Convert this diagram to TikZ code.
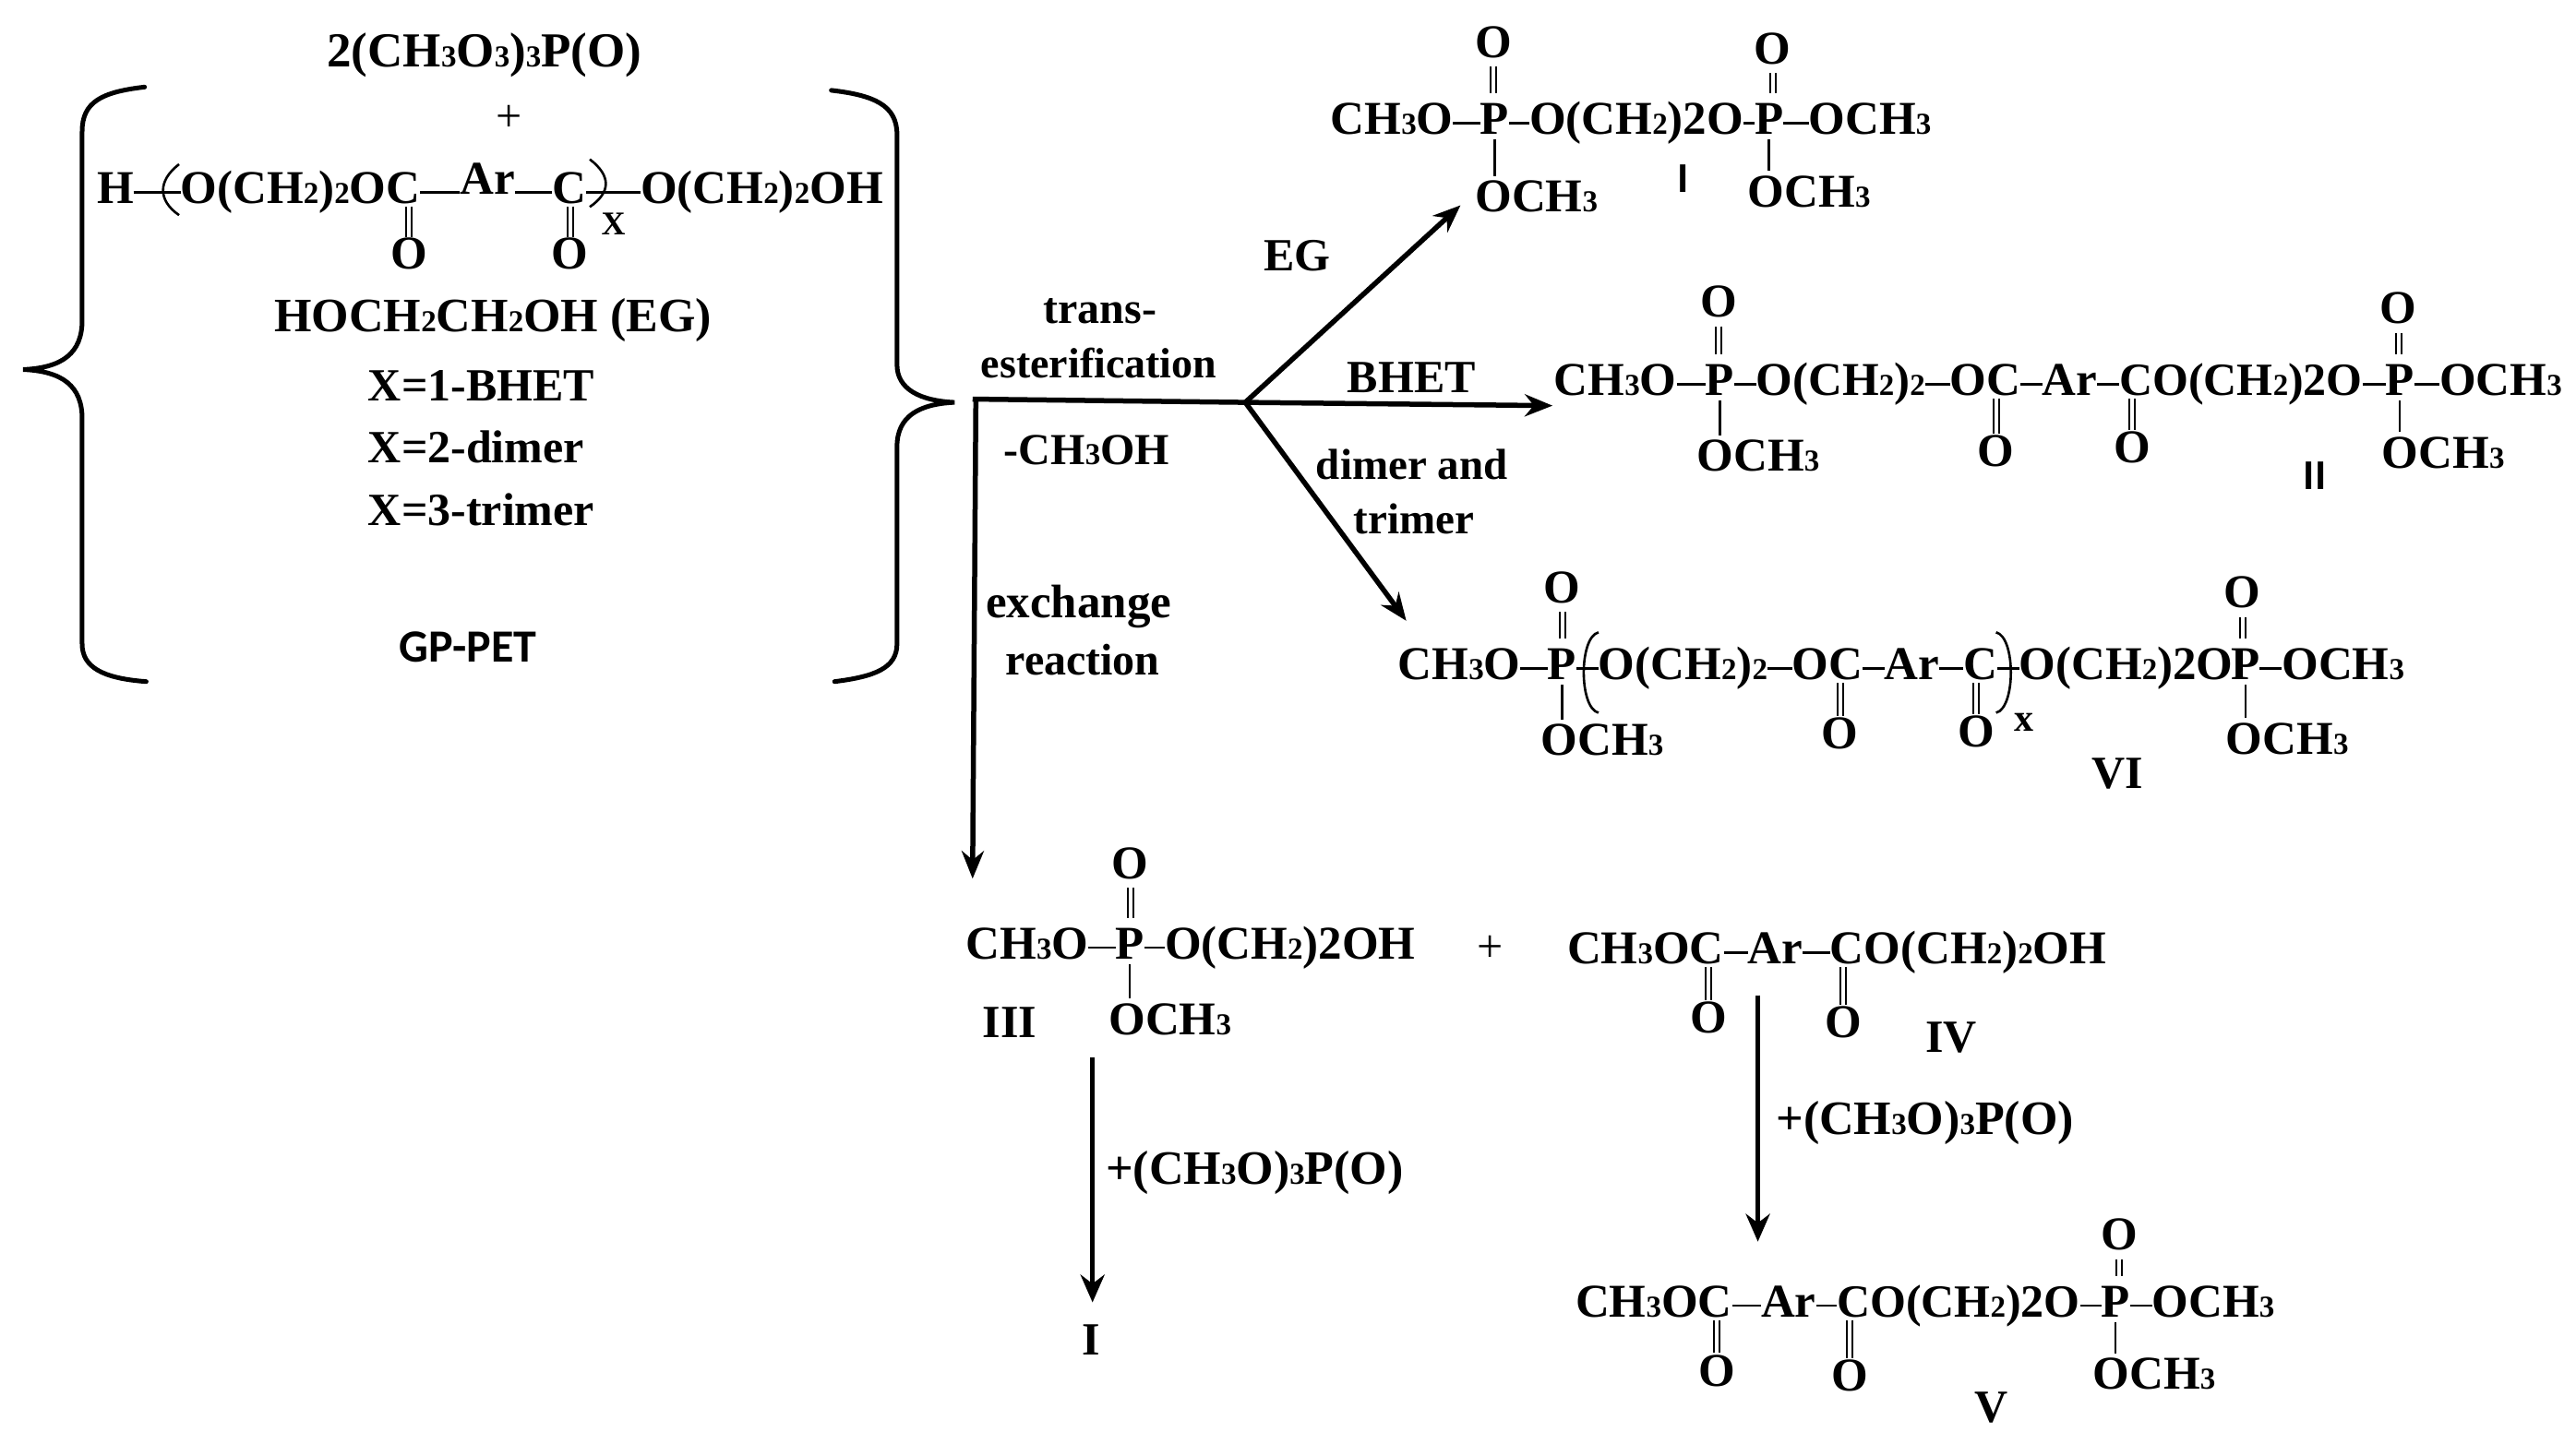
\documentclass[tikz,border=0pt]{standalone}
\usepackage{fontspec}
\setmainfont{Liberation Serif}
\newfontfamily\sansb{Carlito}
\usetikzlibrary{arrows.meta}
\newcommand\sm[1]{{\fontsize{33}{33}\selectfont #1}}
\newcommand\fs[1]{\fontsize{#1}{#1}\selectfont\bfseries}
\tikzset{
 chem/.style={inner sep=0pt,outer sep=0pt,anchor=base west,text height=25pt,text depth=0pt,font=\fs{51}},
 ox/.style={chem,anchor=base},
 lab/.style={inner sep=0pt,anchor=base west,font=\fs{50}},
 sanslab/.style={inner sep=0pt,anchor=base west,font=\fs{50}\sansb},
 romsans/.style={inner sep=0pt,anchor=base west,font=\fs{46}\sansb},
 bond/.style={line width=2.6pt,black},
 dbl/.style={line width=8pt,black,postaction={draw=white,line width=4pt}},
 brace/.style={line width=5pt,black,line cap=round},
 react/.style={line width=5.5pt,black,-{Stealth[length=30pt,width=24pt]}},
 reactb/.style={line width=5pt,black,-{Stealth[length=30pt,width=26pt]}},
 plain/.style={line width=5.5pt,black},
 paren/.style={line width=2.6pt,black}
}
\newcommand\hb[2]{\draw[bond] (#1.east) -- (#1.east -| #2.west);}
\newcommand\dup[2]{\draw[dbl,shorten <=10pt,shorten >=20pt] (#1.south) -- (#1.south |- #2.north);}
\newcommand\ddn[2]{\draw[dbl,shorten <=3pt,shorten >=11pt] (#1.north |- #2.south) -- (#1.north);}
\newcommand\vb[2]{\draw[bond,shorten <=5pt,shorten >=14pt] (#1.south) -- (#1.south |- #2.north);}
\begin{document}
\begin{tikzpicture}[x=1.78pt,y=-1.78pt]
\useasboundingbox (0,0) rectangle (1568,886.5);
\fill[white] (0,0) rectangle (1568,886.5);
% left group
\node[lab,font=\fs{53}] (r1) at (199,41) {2(CH\sm{3}O\sm{3})\sm{3}P(O)};
\node[lab,anchor=center,font=\fontsize{50}{55}\selectfont] (pl1) at (310,72) {+};
\node[chem] (ph) at (59,124) {H};
\node[chem] (pa) at (110,124) {O(CH\sm{2})\sm{2}OC};
\node[chem] (par) at (280,118) {Ar};
\node[chem] (pc) at (336,124) {C};
\node[chem] (pb) at (390,124) {O(CH\sm{2})\sm{2}OH};
\node[ox] (po1) at (249,164) {O};
\node[ox] (po2) at (347,164) {O};
\node[lab,font=\fs{36}] (px) at (366,143) {X};
\hb{ph}{pa}\hb{pa}{par}\draw[bond] (pc.west) -- (pc.west -| par.east);\hb{pc}{pb}
\draw[dbl,shorten <=3pt,shorten >=10pt] (po1.north |- pa.south) -- (po1.north);
\draw[dbl,shorten <=3pt,shorten >=10pt] (po2.north |- pc.south) -- (po2.north);
\coordinate (pl-t) at (109,100); \coordinate (pl-b) at (109,131);
\coordinate (pr-t) at (359,97); \coordinate (pr-b) at (359,126);
\draw[paren] (pl-t) .. controls (96,110) and (96,122) .. (pl-b);
\draw[paren] (pr-t) .. controls (372,107) and (372,117) .. (pr-b);
\node[lab,font=\fs{52}] (eg) at (167,202) {HOCH\sm{2}CH\sm{2}OH (EG)};
\node[lab] (x1) at (224,244) {X=1-BHET};
\node[lab] (x2) at (224,282) {X=2-dimer};
\node[lab] (x3) at (224,320) {X=3-trimer};
\node[sanslab] (gp) at (243,403) {GP-PET};
% braces
\coordinate (lb-a) at (88,53); \coordinate (lb-tip) at (14,225); \coordinate (lb-z) at (89,415);
\draw[brace] (lb-a) .. controls (62,56) and (50,62) .. (50,80) -- (50,195) .. controls (50,215) and (38,224) .. (lb-tip) .. controls (38,226) and (50,235) .. (50,255) -- (50,392) .. controls (50,406) and (62,413) .. (lb-z);
\coordinate (rb-a) at (506,55); \coordinate (rb-tip) at (581,245); \coordinate (rb-z) at (508,415);
\draw[brace] (rb-a) .. controls (532,58) and (546,64) .. (546,82) -- (546,222) .. controls (546,237) and (560,244) .. (rb-tip) .. controls (560,246) and (546,253) .. (546,272) -- (546,392) .. controls (546,407) and (532,412) .. (rb-z);
% arrows
\coordinate (st) at (592,243); \coordinate (jn) at (758,245); \coordinate (stv) at (594,243);
\coordinate (e1) at (889,125); \coordinate (e2) at (945,247); \coordinate (e3) at (856,378); \coordinate (e4) at (592,535);
\draw[plain] (st) -- (jn);
\draw[react] (jn) -- (e1);
\draw[react] (jn) -- (e2);
\draw[react] (jn) -- (e3);
\draw[react] (stv) -- (e4);
\node[lab,font=\fs{48}] at (635,197) (l1) {trans-};
\node[lab,font=\fs{46}] at (597,230) (l2) {esterification};
\node[lab,font=\fs{48}] at (611,283) (l3) {-CH\sm{3}OH};
\node[lab,font=\fs{51}] at (600,376) (l4) {exchange};
\node[lab,font=\fs{48}] at (612,411) (l5) {reaction};
\node[lab] at (769,165) (l6) {EG};
\node[lab] at (820,239) (l7) {BHET};
\node[lab,font=\fs{47}] at (801,292) (l8) {dimer and};
\node[lab,font=\fs{47}] at (824,325) (l9) {trimer};
% I
\node[chem] (a1) at (810,82) {CH\sm{3}O};
\node[chem] (a2) at (901,82) {P};
\node[chem] (a3) at (931,82) {O(CH\sm{2})2O};
\node[chem] (a4) at (1068,82) {P};
\node[chem] (a5) at (1101,82) {OCH\sm{3}};
\node[ox] (ao1) at (909,35) {O};
\node[ox] (ao2) at (1079,39) {O};
\node[chem] (ao3) at (898,129) {OCH\sm{3}};
\node[chem] (ao4) at (1064,126) {OCH\sm{3}};
\node[romsans] (alab) at (1021,117) {I};
\hb{a1}{a2}\hb{a2}{a3}\hb{a3}{a4}\hb{a4}{a5}
\dup{ao1}{a2}\dup{ao2}{a4}\vb{a2}{ao3}\vb{a4}{ao4}
% II
\node[chem] (b1) at (946,241) {CH\sm{3}O};
\node[chem] (b2) at (1038,241) {P};
\node[chem] (b3) at (1069,241) {O(CH\sm{2})\sm{2}};
\node[chem] (b4) at (1187,241) {OC};
\node[chem] (b5) at (1243,241) {Ar};
\node[chem,font=\fs{50}] (b6) at (1290,241) {CO(CH\sm{2})2O};
\node[chem] (b7) at (1452,241) {P};
\node[chem] (b8) at (1485,241) {OCH\sm{3}};
\node[ox] (bo1) at (1046,193) {O};
\node[ox] (bo2) at (1215,284) {O};
\node[ox] (bo3) at (1298,282) {O};
\node[ox] (bo4) at (1460,197) {O};
\node[chem] (bo5) at (1033,287) {OCH\sm{3}};
\node[chem] (bo6) at (1450,285) {OCH\sm{3}};
\node[romsans] (blab) at (1402,298) {II};
\hb{b1}{b2}\hb{b2}{b3}\hb{b3}{b4}\hb{b4}{b5}\hb{b5}{b6}\hb{b6}{b7}\hb{b7}{b8}
\dup{bo1}{b2}\dup{bo4}{b7}\ddn{bo2}{b4}\ddn{bo3}{b6}\vb{b2}{bo5}\vb{b7}{bo6}
% VI
\node[chem] (c1) at (851,414) {CH\sm{3}O};
\node[chem] (c2) at (942,414) {P};
\node[chem] (c3) at (973,414) {O(CH\sm{2})\sm{2}};
\node[chem] (c4) at (1091,414) {OC};
\node[chem] (c5) at (1147,414) {Ar};
\node[chem] (c6) at (1195,414) {C};
\node[chem] (c7) at (1229,414) {O(CH\sm{2})2O};
\node[chem] (c8) at (1358,414) {P};
\node[chem] (c9) at (1389,414) {OCH\sm{3}};
\node[ox] (co1) at (951,367) {O};
\node[ox] (co2) at (1120,456) {O};
\node[ox] (co3) at (1203,455) {O};
\node[ox] (co4) at (1365,370) {O};
\node[chem] (co5) at (938,460) {OCH\sm{3}};
\node[chem] (co6) at (1355,459) {OCH\sm{3}};
\node[lab,font=\fs{42}] (cx) at (1226,445) {x};
\node[lab] (clab) at (1273,480) {VI};
\hb{c1}{c2}\hb{c2}{c3}\hb{c3}{c4}\hb{c4}{c5}\hb{c5}{c6}\hb{c6}{c7}\hb{c8}{c9}
\dup{co1}{c2}\dup{co4}{c8}\ddn{co2}{c4}\ddn{co3}{c6}\vb{c2}{co5}\vb{c8}{co6}
\coordinate (cl-t) at (973,385); \coordinate (cl-b) at (973,434);
\coordinate (cr-t) at (1215,385); \coordinate (cr-b) at (1215,434);
\draw[paren] (cl-t) .. controls (961,388) and (961,431) .. (cl-b);
\draw[paren] (cr-t) .. controls (1227,388) and (1227,431) .. (cr-b);
% III
\node[chem] (d1) at (588,584) {CH\sm{3}O};
\node[chem] (d2) at (679,584) {P};
\node[chem] (d3) at (709,584) {O(CH\sm{2})2OH};
\node[ox] (do1) at (688,535) {O};
\node[chem] (do2) at (675,630) {OCH\sm{3}};
\node[lab] (dlab) at (598,632) {III};
\hb{d1}{d2}\hb{d2}{d3}\dup{do1}{d2}\vb{d2}{do2}
\node[lab,anchor=center,font=\fontsize{50}{55}\selectfont] (pl2) at (907,578) {+};
% IV
\node[chem] (f1) at (954,587) {CH\sm{3}OC};
\node[chem] (f2) at (1064,587) {Ar};
\node[chem] (f3) at (1114,587) {CO(CH\sm{2})\sm{2}OH};
\node[ox] (fo1) at (1040,629) {O};
\node[ox] (fo2) at (1122,632) {O};
\node[lab] (flab) at (1172,641) {IV};
\hb{f1}{f2}\hb{f2}{f3}\ddn{fo1}{f1}\ddn{fo2}{f3}
% arrows below
\coordinate (g1) at (665,644); \coordinate (g2) at (665,793);
\coordinate (g3) at (1070,606); \coordinate (g4) at (1070,756);
\draw[reactb] (g1) -- (g2);
\draw[reactb] (g3) -- (g4);
\node[lab,font=\fs{52}] (gl1) at (673,721) {+(CH\sm{3}O)\sm{3}P(O)};
\node[lab,font=\fs{52}] (gl2) at (1081,691) {+(CH\sm{3}O)\sm{3}P(O)};
\node[lab,anchor=base] (glab) at (664,825) {I};
% V
\node[chem] (h1) at (959,802) {CH\sm{3}OC};
\node[chem] (h2) at (1072,802) {Ar};
\node[chem,font=\fs{50}] (h3) at (1118,802) {CO(CH\sm{2})2O};
\node[chem] (h4) at (1279,802) {P};
\node[chem] (h5) at (1310,802) {OCH\sm{3}};
\node[ox] (ho1) at (1045,844) {O};
\node[ox] (ho2) at (1126,847) {O};
\node[ox] (ho3) at (1290,761) {O};
\node[chem] (ho4) at (1274,846) {OCH\sm{3}};
\node[lab] (hlab) at (1202,866) {V};
\hb{h1}{h2}\hb{h2}{h3}\hb{h3}{h4}\hb{h4}{h5}\ddn{ho1}{h1}\ddn{ho2}{h3}\dup{ho3}{h4}\vb{h4}{ho4}
\end{tikzpicture}
\end{document}
